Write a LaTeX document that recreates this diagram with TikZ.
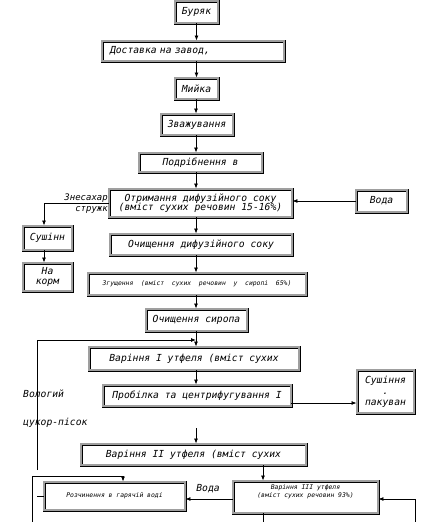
\documentclass[tikz,border=0pt]{standalone}
\usepackage{fontspec}
\setmonofont{DejaVu Sans Mono}
\usetikzlibrary{arrows.meta,calc}
\newcommand\mf{\ttfamily\itshape\fontsize{9.7}{11}\selectfont}
\newcommand\sfn{\ttfamily\itshape\fontsize{6.4}{8}\selectfont}
\begin{document}
\begin{tikzpicture}[x=1pt,y=-1pt,
  box/.style={draw=black, double=gray!75, double distance=1.2pt, line width=0.9pt, fill=white, inner sep=1pt, align=center, font=\mf},
  arr/.style={-{Latex[length=5pt,width=4pt]}, line width=0.8pt},
  ln/.style={line width=0.8pt},
  lbl/.style={font=\mf, inner sep=0pt}]
\useasboundingbox (0,0) rectangle (431,522);

% labels
\node[lbl, anchor=east, font=\ttfamily\itshape\fontsize{9}{10}\selectfont] (zn1) at (108,198) {Знесахар};
\node[lbl, anchor=east, font=\ttfamily\itshape\fontsize{9}{10}\selectfont] (zn2) at (108,210) {стружк};
\node[lbl, anchor=west] (vol1) at (23,394) {Вологий};
\node[lbl, anchor=west] (vol2) at (23,423) {цукор-пісок};
\node[lbl] (voda2) at (208,489) {Вода};

% boxes
\node[box, minimum width=43pt, minimum height=22pt] (burak) at (196.5,12) {Буряк};
\node[box, minimum width=182pt, minimum height=20pt, text width=166pt, align=left] (dost) at (193,51) {Доставка на завод,};
\node[box, minimum width=43pt, minimum height=21pt] (myika) at (196.5,88.5) {Мийка};
\node[box, minimum width=72pt, minimum height=21pt] (zvazh) at (197,124.5) {Зважування};
\node[box, minimum width=123pt, minimum height=19pt] (podr) at (200.5,162.5) {Подрібнення в};
\node[box, minimum width=183pt, minimum height=28pt, font=\ttfamily\itshape\fontsize{9.7}{9.5}\selectfont] (otr) at (200.5,203) {Отримання дифузійного соку\\(вміст сухих речовин 15-16\%)};
\node[box, minimum width=51pt, minimum height=22pt] (voda) at (381.5,201) {Вода};
\node[box, minimum width=49pt, minimum height=24pt] (sush) at (47.5,238) {Сушінн};
\node[box, minimum width=49pt, minimum height=28pt, font=\ttfamily\itshape\fontsize{9.7}{9.5}\selectfont] (korm) at (47.5,277) {На\\корм};
\node[box, minimum width=182pt, minimum height=21pt] (ochd) at (201,244.5) {Очищення дифузійного соку};
\node[box, minimum width=218pt, minimum height=22pt, font=\sfn] (zgush) at (197,284) {Згущення\ \ (вміст\ \ сухих\ \ речовин\ \ у\ \ сиропі\ \ 65\%)};
\node[box, minimum width=101pt, minimum height=22pt] (ochs) at (196.5,320) {Очищення сиропа};
\node[box, minimum width=210pt, minimum height=23pt] (var1) at (194,358.5) {Варіння I утфеля (вміст сухих};
\node[box, minimum width=188pt, minimum height=21pt] (prob) at (197,395.5) {Пробілка та центрифугування I};
\node[box, minimum width=57pt, minimum height=43pt, font=\ttfamily\itshape\fontsize{9.7}{11}\selectfont] (sush2) at (385.5,391.5) {Сушіння\\.\\пакуван};
\node[box, minimum width=225pt, minimum height=21pt] (var2) at (193.5,454.5) {Варіння II утфеля (вміст сухих};
\node[box, minimum width=141pt, minimum height=28pt, font=\sfn] (rozch) at (114.5,496) {Розчинення в гарячій воді};
\node[box, minimum width=145pt, minimum height=32pt] (var3) at (305.5,497) {};
\node[font=\sfn, align=center, inner sep=0pt] (var3t) at (305.5,492) {Варіння III утфеля\\(вміст сухих речовин 93\%)};

% free ends
\coordinate (c1) at (196,428);
\coordinate (c2) at (263,522);
\coordinate (c3) at (415,522);
\coordinate (c4) at (37,470);
\coordinate (c5) at (32,522);
\coordinate (c6) at (37,496);

% main flow
\draw[arr] (burak) -- (dost.north -| burak);
\draw[arr] (dost.south -| burak) -- (myika);
\draw[arr] (myika.south -| 196,0) -- (zvazh.north -| 196,0);
\draw[arr] (zvazh.south -| 196,0) -- (podr.north -| 196,0);
\draw[arr] (podr.south -| 196,0) -- (otr.north -| 196,0);
\draw[arr] (otr.south -| 196,0) -- (ochd.north -| 196,0);
\draw[arr] (ochd.south -| 196,0) -- (zgush.north -| 196,0);
\draw[arr] (zgush.south -| 196,0) -- (ochs.north -| 196,0);
\draw[arr] (ochs.south -| 196,0) -- (var1.north -| 196,0);
\draw[arr] (var1.south -| 196,0) -- (prob.north -| 196,0);
\draw[arr] (c1) -- (var2.north -| c1);
\draw[arr] (var2.south -| 263,0) -- (var3.north -| 263,0);
\draw[ln] (var3.south -| c2) -- (c2);

% side flows
\draw[arr] (voda.west) -- (voda.west -| otr.east);
\draw[arr] (otr.west) -| ([xshift=-3.5pt]sush.north);
\draw[arr] ([xshift=-3.5pt]sush.south) -- ([xshift=-3.5pt]korm.north);
\draw[arr] ([yshift=-7.5pt]prob.east) coordinate (pa) -- (pa -| sush2.west);
\draw[arr] (c4) -- (c4 |- 0,340) -- (196,340);
\draw[arr] (c5) -- (c5 |- 0,476) -- (123,476) -- (rozch.north -| 123,0);
\draw[ln] (c6) -- (rozch.west);
\draw[arr] (c3) -- (c3 |- 0,499) -- (var3.east |- 0,499);
\draw[arr] (var3.west |- 0,499) -- (rozch.east |- 0,499);
\end{tikzpicture}
\end{document}
